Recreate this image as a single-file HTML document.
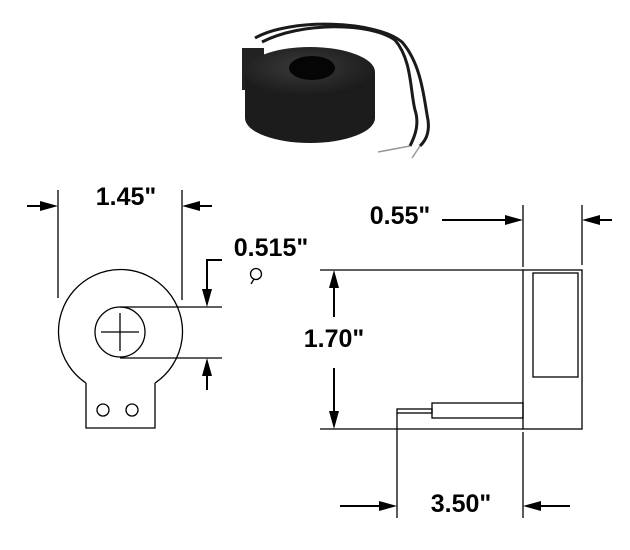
<!DOCTYPE html>
<html><head><meta charset="utf-8"><style>
html,body{margin:0;padding:0;background:#fff;}
svg{display:block;}
text{font-family:"Liberation Sans",Arial,sans-serif;font-weight:bold;font-size:25px;fill:#000;}
</style></head><body>
<svg width="630" height="550" viewBox="0 0 630 550" xmlns="http://www.w3.org/2000/svg">
<defs>
<radialGradient id="g1" cx="0.45" cy="0.4" r="0.7"><stop offset="0" stop-color="#3a3a3a"/><stop offset="1" stop-color="#151515"/></radialGradient>
</defs>
<g>
<path d="M262 42 C300 22 370 22 395 40 C412 60 410 90 415 110 C420 125 414 138 410 146" fill="none" stroke="#1a1a1a" stroke-width="3"/>
<path d="M255 38 C290 18 375 20 402 42 C422 65 424 100 428 120 C430 135 424 142 420 146" fill="none" stroke="#1a1a1a" stroke-width="3"/>
<path d="M410 146 L378 152" stroke="#999" stroke-width="1.5"/>
<path d="M420 146 L412 158" stroke="#999" stroke-width="1.5"/>
<rect x="242" y="48" width="22" height="42" fill="#222"/>
<path d="M245 72 L245 118 A65 25 0 0 0 375 118 L375 72 Z" fill="#1c1c1c"/>
<ellipse cx="310" cy="72" rx="65" ry="25" fill="url(#g1)"/>
<ellipse cx="312" cy="68" rx="23" ry="12" fill="#050505"/>
</g>
<g stroke="#000" stroke-width="1.3" fill="none">
<path d="M86 383 A62 62 0 1 1 155 383"/>
<path d="M86 383 L86 428 L155 428 L155 383"/>
<circle cx="103" cy="410" r="6"/>
<circle cx="132" cy="410" r="6"/>
<circle cx="120" cy="332" r="25"/>
<line x1="101" y1="332" x2="139" y2="332"/>
<line x1="120" y1="313" x2="120" y2="351"/>
<line x1="120" y1="307" x2="222" y2="307"/>
<line x1="120" y1="358" x2="222" y2="358"/>
<line x1="58" y1="190" x2="58" y2="298"/>
<line x1="182" y1="190" x2="182" y2="300"/>
<line x1="27" y1="206" x2="45" y2="206" stroke-width="2"/>
<line x1="195" y1="206" x2="212" y2="206" stroke-width="2"/>
<path d="M222 260 L207 260 L207 292" stroke-width="2"/>
<line x1="207" y1="373" x2="207" y2="390" stroke-width="2"/>
<circle cx="256" cy="274" r="5.5"/>
<line x1="254" y1="279" x2="251" y2="284"/>
<rect x="523" y="270" width="59" height="159"/>
<rect x="533" y="273" width="45" height="104"/>
<line x1="320" y1="270" x2="523" y2="270"/>
<line x1="320" y1="429" x2="523" y2="429"/>
<line x1="523" y1="205" x2="523" y2="267"/>
<line x1="582" y1="205" x2="582" y2="265"/>
<line x1="523" y1="432" x2="523" y2="518"/>
<rect x="432" y="403" width="91" height="15"/>
<rect x="397" y="409" width="35" height="4"/>
<line x1="397" y1="413" x2="397" y2="518"/>
<line x1="442" y1="220" x2="510" y2="220" stroke-width="2"/>
<line x1="595" y1="220" x2="612" y2="220" stroke-width="2"/>
<line x1="334" y1="283" x2="334" y2="317" stroke-width="2"/>
<line x1="334" y1="368" x2="334" y2="416" stroke-width="2"/>
<line x1="340" y1="506" x2="384" y2="506" stroke-width="2"/>
<line x1="536" y1="506" x2="570" y2="506" stroke-width="2"/>
</g>
<g fill="#000">
<polygon points="58,206 40,201 40,211"/>
<polygon points="182,206 200,201 200,211"/>
<polygon points="207,307 202,289 212,289"/>
<polygon points="207,358 202,376 212,376"/>
<polygon points="523,220 505,215 505,225"/>
<polygon points="582,220 600,215 600,225"/>
<polygon points="334,270 329,288 339,288"/>
<polygon points="334,429 329,411 339,411"/>
<polygon points="397,506 379,501 379,511"/>
<polygon points="523,506 541,501 541,511"/>
</g>
<text x="126" y="205" text-anchor="middle">1.45"</text>
<text x="271" y="256" text-anchor="middle">0.515"</text>
<text x="400" y="224" text-anchor="middle">0.55"</text>
<text x="334" y="347" text-anchor="middle">1.70"</text>
<text x="461" y="512" text-anchor="middle">3.50"</text>
</svg>
</body></html>
